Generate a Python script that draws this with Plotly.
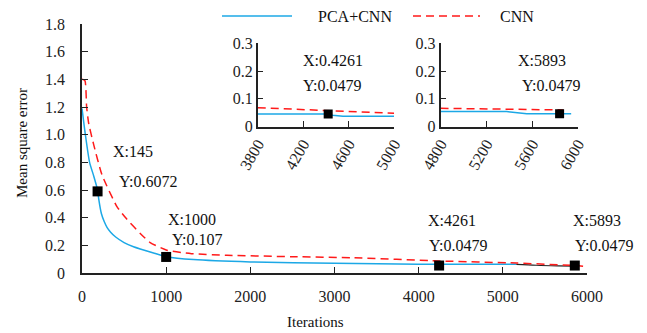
import plotly.graph_objects as go

# ---- main chart data ----
pca_x = [0, 40, 90, 140, 185, 200, 230, 265, 297, 340, 400, 500, 612, 850, 1008, 1324, 2000, 3000, 4000, 5160]
pca_y = [1.19, 1.0, 0.8, 0.7, 0.6, 0.53, 0.43, 0.37, 0.33, 0.295, 0.26, 0.22, 0.19, 0.145, 0.118, 0.097, 0.08, 0.07, 0.064, 0.063]
tail_x = [5160, 5400, 5650, 5850]
tail_y = [0.063, 0.056, 0.052, 0.05]
cnn_x = [0, 35, 55, 80, 138, 237, 415, 532, 692, 810, 1008, 1300, 1720, 2500, 3222, 4250, 5160, 5855, 6000]
cnn_y = [1.40, 1.39, 1.2, 1.08, 0.93, 0.71, 0.48, 0.39, 0.286, 0.22, 0.165, 0.14, 0.128, 0.118, 0.11, 0.087, 0.072, 0.054, 0.047]
mark_x = [185, 1000, 4243, 5855]
mark_y = [0.59, 0.116, 0.054, 0.054]
mark_labels = [("X:145", "Y:0.6072"), ("X:1000", "Y:0.107"), ("X:4261", "Y:0.0479"), ("X:5893", "Y:0.0479")]

# ---- inset 1 data ----
in1_pca_x = [3800, 4400, 4460, 4550, 5000]
in1_pca_y = [0.045, 0.045, 0.041, 0.037, 0.037]
in1_cnn_x = [3800, 5000]
in1_cnn_y = [0.068, 0.048]
in1_mark = (4420, 0.045)
# ---- inset 2 data ----
in2_pca_x = [4800, 5378, 5553, 5941]
in2_pca_y = [0.054, 0.054, 0.046, 0.046]
in2_cnn_x = [4800, 5874]
in2_cnn_y = [0.066, 0.06]
in2_mark = (5840, 0.046)

main_yticks = [0, 0.2, 0.4, 0.6, 0.8, 1.0, 1.2, 1.4, 1.6, 1.8]
main_yticktext = ["0", "0.2", "0.4", "0.6", "0.8", "1.0", "1.2", "1.4", "1.6", "1.8"]
main_xticks = [0, 1000, 2000, 3000, 4000, 5000, 6000]
in_yticks = [0, 0.1, 0.2, 0.3]
in_yticktext = ["0", "0.1", "0.2", "0.3"]
in1_xticks = [3800, 4200, 4600, 5000]
in2_xticks = [4800, 5200, 5600, 6000]

BLUE = "#1CA8E6"
RED = "#FF1A1A"
FONT = "'Liberation Serif', 'Times New Roman', Times, serif"
dash = "8px,5px"

fig = go.Figure()
fig.add_trace(go.Scatter(x=pca_x, y=pca_y, mode="lines", line=dict(color=BLUE, width=1.5, shape="spline", smoothing=0.6), xaxis="x", yaxis="y"))
fig.add_trace(go.Scatter(x=tail_x, y=tail_y, mode="lines", line=dict(color="#222", width=1.2, shape="spline"), xaxis="x", yaxis="y"))
fig.add_trace(go.Scatter(x=cnn_x, y=cnn_y, mode="lines", line=dict(color=RED, width=1.5, dash=dash, shape="spline", smoothing=0.5), xaxis="x", yaxis="y"))
fig.add_trace(go.Scatter(x=mark_x, y=mark_y, mode="markers", marker=dict(symbol="square", color="black", size=10), xaxis="x", yaxis="y"))

fig.add_trace(go.Scatter(x=in1_pca_x, y=in1_pca_y, mode="lines", line=dict(color=BLUE, width=1.5), xaxis="x2", yaxis="y2"))
fig.add_trace(go.Scatter(x=in1_cnn_x, y=in1_cnn_y, mode="lines", line=dict(color=RED, width=1.5, dash=dash), xaxis="x2", yaxis="y2"))
fig.add_trace(go.Scatter(x=[in1_mark[0]], y=[in1_mark[1]], mode="markers", marker=dict(symbol="square", color="black", size=9), xaxis="x2", yaxis="y2"))

fig.add_trace(go.Scatter(x=in2_pca_x, y=in2_pca_y, mode="lines", line=dict(color=BLUE, width=1.5), xaxis="x3", yaxis="y3"))
fig.add_trace(go.Scatter(x=in2_cnn_x, y=in2_cnn_y, mode="lines", line=dict(color=RED, width=1.5, dash=dash), xaxis="x3", yaxis="y3"))
fig.add_trace(go.Scatter(x=[in2_mark[0]], y=[in2_mark[1]], mode="markers", marker=dict(symbol="square", color="black", size=9), xaxis="x3", yaxis="y3"))

axcommon = dict(showline=True, linecolor="#222", linewidth=1.5, ticks="inside", tickcolor="#222",
                ticklen=6, tickwidth=1.2, showgrid=False, zeroline=False, mirror=False,
                tickfont=dict(family=FONT, size=16, color="#222"))

W, L, H, B = 505.0, 82.0, 249.0, 273.0
def px(xp):
    return (xp - L) / W
def py(yp):
    return (B - yp) / H

ann = []
def note(x, y, text, xref="paper", yref="paper", **kw):
    ann.append(dict(x=x, y=y, xref=xref, yref=yref, text=text, showarrow=False,
                    xanchor="center", yanchor="middle", **kw))

# data point labels (main), placed in paper pixels
lab_pos = [((133.3, 151.7), (148.3, 181)), ((191.7, 219.3), (197.3, 239.3)),
           ((451.7, 220), (458.3, 245)), ((597.3, 220), (604.3, 245))]
for (l1, l2), (p1, p2) in zip(mark_labels, lab_pos):
    note(px(p1[0]), py(p1[1]), l1)
    note(px(p2[0]), py(p2[1]), l2)
note(4464, 0.24, "X:0.4261", "x2", "y2")
note(4461, 0.15, "Y:0.0479", "x2", "y2")
note(5685, 0.24, "X:5893", "x3", "y3")
note(5772, 0.15, "Y:0.0479", "x3", "y3")
# legend
ly = py(16)
note(px(355), ly, "PCA+CNN")
note(px(517), ly, "CNN")
shapes = [
    dict(type="line", xref="paper", yref="paper", x0=px(222), x1=px(292), y0=ly, y1=ly, line=dict(color=BLUE, width=1.5)),
    dict(type="line", xref="paper", yref="paper", x0=px(413), x1=px(480), y0=ly, y1=ly, line=dict(color=RED, width=1.5, dash=dash)),
]
# axis titles
note(px(22), py(143), "Mean square error", textangle=-90, font=dict(size=15))
note(px(315), py(322), "Iterations", font=dict(size=15))

fig.update_layout(
    width=647, height=333,
    margin=dict(l=82, r=60, t=24, b=60),
    paper_bgcolor="white", plot_bgcolor="rgba(0,0,0,0)",
    showlegend=False,
    font=dict(family=FONT, size=16, color="#111"),
    annotations=ann, shapes=shapes,
    xaxis=dict(axcommon, domain=[0, 1], range=[0, 6000], tickvals=main_xticks, ticklabelstandoff=8),
    yaxis=dict(axcommon, domain=[0, 1], range=[0, 1.8], tickvals=main_yticks, ticktext=main_yticktext, ticklabelstandoff=12),
    xaxis2=dict(axcommon, domain=[0.348, 0.618], range=[3800, 5000], tickvals=in1_xticks, tickangle=-60, anchor="y2"),
    yaxis2=dict(axcommon, domain=[0.588, 0.922], range=[0, 0.3], tickvals=in_yticks, ticktext=in_yticktext, anchor="x2"),
    xaxis3=dict(axcommon, domain=[0.710, 0.982], range=[4800, 6000], tickvals=in2_xticks, tickangle=-60, anchor="y3"),
    yaxis3=dict(axcommon, domain=[0.588, 0.922], range=[0, 0.3], tickvals=in_yticks, ticktext=in_yticktext, anchor="x3"),
)
fig.write_html("out.html")
